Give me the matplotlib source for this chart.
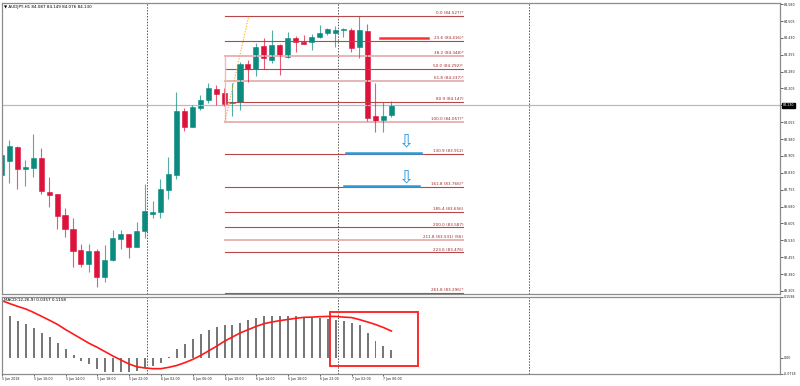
import numpy as np
import matplotlib
matplotlib.use("Agg")
import matplotlib.pyplot as plt
from matplotlib.patches import Rectangle

# AUDJPY H1 candles, 5 Jun 06:00 .. 7 Jun 07:00
OPENS = [83.820, 83.884, 83.946, 83.847, 83.850, 83.896, 83.746, 83.734, 83.641, 83.579,
         83.487, 83.423, 83.481, 83.368, 83.442, 83.536, 83.558, 83.501, 83.571, 83.647,
         83.657, 83.753, 83.820, 84.105, 84.035, 84.119, 84.153, 84.202, 84.186, 84.141,
         84.143, 84.312, 84.291, 84.394, 84.331, 84.398, 84.346, 84.431, 84.413, 84.410,
         84.434, 84.453, 84.453, 84.465, 84.465, 84.391, 84.460, 84.084, 84.065, 84.087]
HIGHS = [83.931, 83.976, 83.949, 83.887, 84.002, 83.939, 83.812, 83.734, 83.672, 83.627,
         83.513, 83.512, 83.490, 83.509, 83.576, 83.576, 83.560, 83.610, 83.779, 83.704,
         83.802, 83.901, 84.189, 84.118, 84.131, 84.176, 84.229, 84.220, 84.207, 84.228,
         84.324, 84.331, 84.406, 84.428, 84.465, 84.403, 84.457, 84.439, 84.443, 84.446,
         84.487, 84.472, 84.483, 84.475, 84.475, 84.527, 84.490, 84.228, 84.146, 84.149]
LOWS = [83.807, 83.783, 83.756, 83.772, 83.810, 83.734, 83.679, 83.579, 83.546, 83.412,
        83.412, 83.389, 83.321, 83.346, 83.439, 83.491, 83.450, 83.498, 83.539, 83.627,
        83.630, 83.713, 83.804, 84.017, 84.032, 84.109, 84.140, 84.131, 84.127, 84.084,
        84.109, 84.232, 84.262, 84.291, 84.317, 84.265, 84.339, 84.368, 84.401, 84.376,
        84.428, 84.443, 84.391, 84.435, 84.368, 84.342, 84.060, 84.013, 84.013, 84.076]
CLOSES = [83.909, 83.949, 83.845, 83.854, 83.894, 83.749, 83.731, 83.639, 83.580, 83.482,
          83.426, 83.482, 83.367, 83.442, 83.539, 83.558, 83.501, 83.572, 83.660, 83.657,
          83.756, 83.823, 84.106, 84.035, 84.124, 84.153, 84.207, 84.180, 84.137, 84.146,
          84.312, 84.291, 84.391, 84.339, 84.398, 84.351, 84.431, 84.410, 84.404, 84.435,
          84.453, 84.469, 84.463, 84.469, 84.386, 84.465, 84.075, 84.060, 84.084, 84.130]

MACD_HIST = [0.189, 0.179, 0.159, 0.148, 0.130, 0.109, 0.090, 0.066, 0.040, 0.014,
             -0.013, -0.027, -0.050, -0.060, -0.060, -0.060, -0.060, -0.057, -0.046, -0.036,
             -0.021, 0.002, 0.036, 0.061, 0.083, 0.104, 0.119, 0.133, 0.141, 0.143,
             0.152, 0.162, 0.172, 0.179, 0.182, 0.182, 0.182, 0.179, 0.176, 0.176,
             0.173, 0.169, 0.165, 0.159, 0.151, 0.143, 0.108, 0.073, 0.050, 0.0357]
MACD_SIGNAL = [0.247, 0.234, 0.222, 0.211, 0.196, 0.179, 0.162, 0.144, 0.122, 0.102,
               0.082, 0.062, 0.045, 0.026, 0.007, -0.010, -0.027, -0.039, -0.044, -0.047,
               -0.047, -0.041, -0.033, -0.021, -0.007, 0.010, 0.030, 0.050, 0.072, 0.090,
               0.108, 0.122, 0.136, 0.148, 0.155, 0.161, 0.166, 0.171, 0.175, 0.176,
               0.178, 0.179, 0.179, 0.176, 0.174, 0.165, 0.155, 0.144, 0.131, 0.1158]

FIB_LEVELS = [0.0, 23.6, 38.2, 50.0, 61.8, 80.9, 100.0, 130.9, 161.8, 185.4, 200.0, 211.8, 223.6, 261.8]
FIB_PRICES = [84.527, 84.416, 84.348, 84.292, 84.237, 84.147, 84.057, 83.912, 83.766, 83.656,
              83.587, 83.531, 83.476, 83.296]
FIB_SUFFIX = ["*", "*", "*", "*", "*", "", "*", "", "*", "", "", " (SS)", "", "*"]
FIB_LIGHT = [38.2, 61.8, 100.0, 211.8]

XTICK_LABELS = ["5 Jun 2018", "5 Jun 10:00", "5 Jun 14:00", "5 Jun 18:00", "5 Jun 22:00",
                "6 Jun 02:00", "6 Jun 06:00", "6 Jun 10:00", "6 Jun 14:00", "6 Jun 18:00",
                "6 Jun 22:00", "7 Jun 02:00", "7 Jun 06:00"]
DAY_STARTS = [18, 42, 66]

BULL = "#0b8a7f"
BEAR = "#dc143c"
FRAME = "#8c8c8c"


def draw_candles(ax):
    for i in range(len(OPENS)):
        o, h, l, c = OPENS[i], HIGHS[i], LOWS[i], CLOSES[i]
        col = BULL if c >= o else BEAR
        ax.plot([i, i], [l, h], color=col, lw=0.8, alpha=0.7, solid_capstyle="butt")
        bottom = min(o, c)
        height = max(abs(c - o), 0.003)
        ax.add_patch(Rectangle((i - 0.32, bottom), 0.64, height, facecolor=col,
                               edgecolor=col, lw=0.4))


def main():
    fig = plt.figure(figsize=(8, 3.86), dpi=100)
    ax = fig.add_axes([0.0025, 0.2383, 0.9725, 0.7539])
    mx = fig.add_axes([0.0025, 0.0311, 0.9725, 0.1995])

    x_lo, x_hi = 0.075, 97.9
    idx = np.arange(len(OPENS))

    # price window
    draw_candles(ax)
    ax.set_xlim(x_lo, x_hi)
    ax.set_ylim(83.291, 84.585)
    ax.axhline(CLOSES[-1], color="#aebdcc", lw=0.9, zorder=1)

    # fibonacci expansion
    fib_x0, fib_x1 = 28.1, 58.1
    for lvl, price, suf in zip(FIB_LEVELS, FIB_PRICES, FIB_SUFFIX):
        if lvl in FIB_LIGHT:
            ax.plot([fib_x0, fib_x1], [price, price], color="#e8b4b4", lw=1.4, zorder=1)
        else:
            ax.plot([fib_x0, fib_x1], [price, price], color="#b84848", lw=0.8, zorder=1)
        ax.text(fib_x1, price + 0.004, "%.1f (%.3f)%s" % (lvl, price, suf), fontsize=3.0,
                color="#a0282a", ha="right", va="bottom")
    ax.plot([fib_x0, fib_x0], [FIB_PRICES[2], FIB_PRICES[6]], color="#eebcbc", lw=1.0)
    ax.plot([fib_x0, 31.1], [FIB_PRICES[6], FIB_PRICES[0]], color="#ffa31a", lw=0.8,
            linestyle=(0, (1, 1.5)))

    # target marks
    ax.plot([47.6, 53.7], [84.428, 84.428], color="#ff3030", lw=1.8)
    ax.plot([43.3, 52.7], [83.916, 83.916], color="#2a9ad8", lw=1.8)
    ax.plot([43.1, 52.5], [83.770, 83.770], color="#2a9ad8", lw=1.8)
    for y in [83.967, 83.811]:
        ax.text(50.9, y, "\u21e9", fontsize=13, color="#2a9ad8", ha="center", va="center")

    ax.set_yticks(np.arange(83.305, 84.581, 0.075))
    ax.yaxis.set_major_formatter(plt.FormatStrFormatter("%.3f"))
    ax.set_xticks([])
    ax.yaxis.tick_right()
    ax.tick_params(axis="y", labelsize=2.3, length=2, width=0.5, pad=1, colors="#222222")
    ax.text(x_hi + 0.35, CLOSES[-1], "%.3f" % CLOSES[-1], fontsize=2.3, color="white",
            va="center", ha="left", clip_on=False,
            bbox=dict(boxstyle="square,pad=0.25", fc="black", ec="black"))
    ax.text(0.003, 0.986, "\u25bc %s %.3f %.3f %.3f %.3f" % ("AUDJPY,H1", OPENS[-1], HIGHS[-1],
            LOWS[-1], CLOSES[-1]), transform=ax.transAxes, fontsize=3.0, va="center", ha="left")

    # MACD window
    mx.bar(idx, MACD_HIST, width=0.25, color="#777777")
    mx.plot(idx, MACD_SIGNAL, color="#ff1a1a", lw=1.2)
    mx.set_xlim(x_lo, x_hi)
    m_lo, m_hi = -0.070, 0.263
    mx.set_ylim(m_lo, m_hi)
    mx.add_patch(Rectangle((41.3, -0.0357), 11.1, 0.2322, fill=False, ec="#ff2a2a", lw=1.4))
    mx.set_yticks([m_lo, 0.0, m_hi])
    mx.set_yticklabels(["-0.0718", "0.00", "0.1598"])
    mx.yaxis.tick_right()
    mx.tick_params(axis="y", labelsize=2.3, length=2, width=0.5, pad=1, colors="#222222")
    mx.text(0.002, 0.955, "MACD(12,26,9) 0.0357 0.1158", transform=mx.transAxes, fontsize=3.0,
            va="center", ha="left")

    mx.set_xticks(idx[::4][:len(XTICK_LABELS)])
    mx.set_xticklabels(XTICK_LABELS)
    mx.tick_params(axis="x", labelsize=2.3, length=1.5, width=0.5, pad=1, colors="#222222")
    for lbl in mx.get_xticklabels():
        lbl.set_ha("left")

    for a in (ax, mx):
        for d in DAY_STARTS:
            a.axvline(d + 0.3, color="#555555", lw=0.7, linestyle=(0, (1.5, 1.5)), zorder=0)
        for s in a.spines.values():
            s.set_color(FRAME)
            s.set_linewidth(0.9)

    fig.savefig("out.png", dpi=100, facecolor="white")


if __name__ == "__main__":
    main()
